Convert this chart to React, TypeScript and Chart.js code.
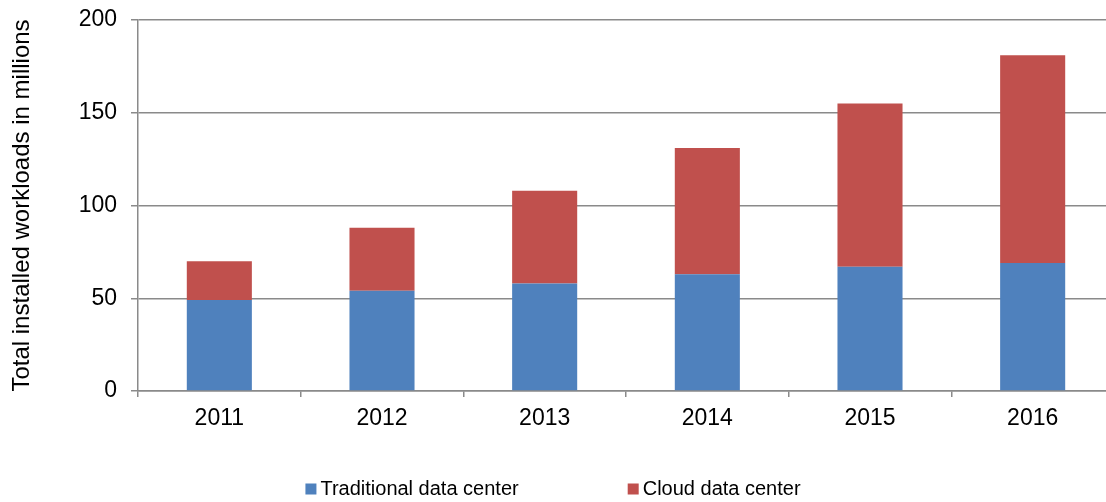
import React, { useEffect, useRef } from "react";
import { Chart, registerables } from "chart.js";

Chart.register(...registerables);

const categories = ["2011", "2012", "2013", "2014", "2015", "2016"];
const traditional = [49, 54, 58, 63, 67, 69];
const cloud = [21, 34, 50, 68, 88, 112];
const seriesNames = ["Traditional data center", "Cloud data center"];
const seriesColors = ["#4F81BD", "#C0504D"];
const yTitle = "Total installed workloads in millions";

const FONT = "'Liberation Sans', Arial, Helvetica, sans-serif";
const GRID = "#8a8a8a";

const legendPlugin = {
  id: "customLegend",
  afterDraw(chart: any) {
    const ctx = chart.ctx;
    ctx.save();
    ctx.font = `20px ${FONT}`;
    ctx.textBaseline = "middle";
    const box = 11;
    const gapBoxText = 4;
    const gapItems = 109;
    const widths = seriesNames.map((n) => box + gapBoxText + ctx.measureText(n).width);
    const total = widths.reduce((a, b) => a + b, 0) + gapItems;
    const viewW = 1106;
    let x = (viewW - total) / 2;
    const yc = 489;
    seriesNames.forEach((n, i) => {
      ctx.fillStyle = seriesColors[i];
      ctx.fillRect(x, yc - box / 2, box, box);
      ctx.fillStyle = "#000";
      ctx.textAlign = "left";
      ctx.fillText(n, x + box + gapBoxText, yc);
      x += widths[i] + gapItems;
    });
    ctx.restore();
  },
};

export default function App() {
  const ref = useRef<HTMLCanvasElement>(null);
  useEffect(() => {
    if (!ref.current) return;
    Chart.defaults.font.family = FONT;
    const chart = new Chart(ref.current, {
      type: "bar",
      data: {
        labels: categories,
        datasets: [
          {
            label: seriesNames[0],
            data: traditional,
            backgroundColor: seriesColors[0],
            categoryPercentage: 1,
            barPercentage: 0.4,
          },
          {
            label: seriesNames[1],
            data: cloud,
            backgroundColor: seriesColors[1],
            categoryPercentage: 1,
            barPercentage: 0.4,
          },
        ],
      },
      options: {
        responsive: false,
        animation: false,
        layout: { padding: { top: 20, right: 2, bottom: 0, left: 0 } },
        plugins: {
          legend: { display: false },
          tooltip: { enabled: false },
        },
        scales: {
          x: {
            stacked: true,
            afterFit: (s: any) => {
              s.height = 111;
              s.paddingLeft = 0;
              s.paddingRight = 0;
            },
            grid: {
              display: true,
              drawOnChartArea: false,
              drawTicks: true,
              tickLength: 6,
              color: GRID,
              lineWidth: 1.5,
              offset: true,
            },
            border: { display: true, color: GRID, width: 1.5 },
            ticks: {
              color: "#000",
              font: { size: 23 },
              padding: 8,
              maxRotation: 0,
            },
          },
          y: {
            stacked: true,
            min: 0,
            max: 200,
            afterFit: (s: any) => {
              s.width = 138;
              s.paddingTop = 0;
              s.paddingBottom = 0;
            },
            grid: {
              color: GRID,
              lineWidth: 1.5,
              drawTicks: true,
              tickLength: 7,
            },
            border: { display: true, color: GRID, width: 1.5 },
            ticks: {
              stepSize: 50,
              color: "#000",
              font: { size: 23 },
              padding: 14,
            },
            title: {
              display: true,
              text: yTitle,
              color: "#000",
              font: { size: 24 },
              padding: { top: 8, bottom: 0 },
            },
          },
        },
      },
      plugins: [legendPlugin],
    });
    return () => chart.destroy();
  }, []);
  return (
    <div
      style={{
        position: "fixed",
        left: 0,
        top: 0,
        width: 1106,
        height: 502,
        overflow: "hidden",
        background: "#fff",
      }}
    >
      <canvas ref={ref} width={1116} height={502} style={{ display: "block" }} />
    </div>
  );
}
